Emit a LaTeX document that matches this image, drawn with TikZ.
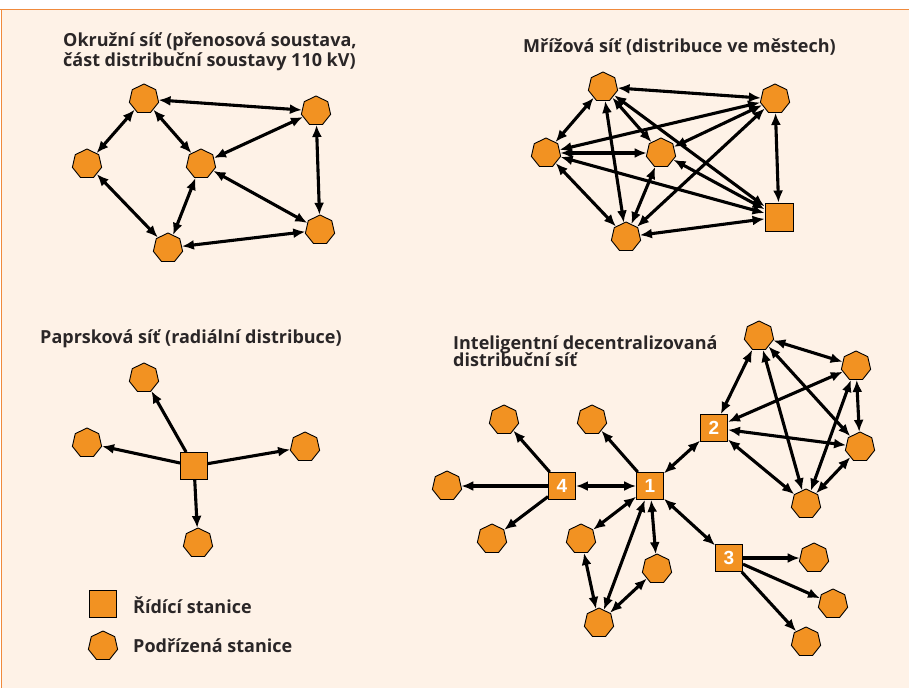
\documentclass[tikz,border=0pt]{standalone}
\usepackage{fontspec}
\setmainfont{Open Sans}
\newfontfamily\numfont{Liberation Sans}
\usetikzlibrary{shapes.geometric,arrows.meta}
\definecolor{cream}{HTML}{FEF2E7}
\definecolor{frameorange}{HTML}{F08A3C}
\definecolor{nodeorange}{HTML}{F29222}
\definecolor{titlegray}{HTML}{2A2627}
\tikzset{
  sub/.style={regular polygon, regular polygon sides=7, draw=black, line width=0.9pt, fill=nodeorange, minimum size=30pt, inner sep=0pt},
  ctrl/.style={rectangle, draw=black, line width=0.9pt, fill=nodeorange, minimum size=27pt, inner sep=0pt, text=white, font=\numfont\bfseries\fontsize{19}{19}\selectfont},
  bi/.style={line width=3.1pt, {Latex[length=12pt,width=10pt]}-{Latex[length=12pt,width=10pt]}},
  uni/.style={line width=3.1pt, -{Latex[length=12pt,width=10pt]}},
  ttl/.style={font=\bfseries\fontsize{18}{20}\selectfont, text=titlegray, anchor=west, align=left, inner sep=0pt},
}
\begin{document}
\begin{tikzpicture}[x=1pt,y=-1pt]
\useasboundingbox (0,0) rectangle (909,688);
\fill[white] (0,0) rectangle (909,688);
\fill[cream] (1.5,9.5) rectangle (909,688);
\draw[frameorange, line width=1.5pt] (0,9.5) -- (909,9.5);
\draw[frameorange, line width=1.5pt] (1.5,9.5) -- (1.5,688);

% ---------- Quadrant 1: ring network ----------
\node[ttl] (t1) at (63,52) {Okružní síť (přenosová soustava,\\část distribuční soustavy 110 kV)};
\node[sub] (a1) at (144,99) {};
\node[sub] (b1) at (316,111) {};
\node[sub] (c1) at (87,164) {};
\node[sub] (d1) at (201,164) {};
\node[sub] (e1) at (168,248) {};
\node[sub] (f1) at (320,230) {};
\draw[bi] (a1) -- (b1);
\draw[bi] (a1) -- (c1);
\draw[bi] (a1) -- (d1);
\draw[bi] (b1) -- (d1);
\draw[bi] (b1) -- (f1);
\draw[bi] (c1) -- (e1);
\draw[bi] (d1) -- (e1);
\draw[bi] (d1) -- (f1);
\draw[bi] (e1) -- (f1);

% ---------- Quadrant 2: mesh network ----------
\node[ttl] (t2) at (523,47) {Mřížová síť (distribuce ve městech)};
\node[sub] (p1) at (603,87) {};
\node[sub] (p2) at (775,99) {};
\node[sub] (p3) at (546,153) {};
\node[sub] (p4) at (661,153) {};
\node[sub] (p5) at (626,237) {};
\node[ctrl, minimum size=28pt] (ps) at (779,217) {};
\draw[bi] (p1) -- (p2);
\draw[bi] (p1) -- (p3);
\draw[bi] (p1) -- (p4);
\draw[bi] (p1) -- (p5);
\draw[bi] (p1) -- (ps);
\draw[bi] (p2) -- (p3);
\draw[bi] (p2) -- (p4);
\draw[bi] (p2) -- (p5);
\draw[bi] (p2) -- (ps);
\draw[bi] (p3) -- (p4);
\draw[bi] (p3) -- (p5);
\draw[bi] (p3) -- (ps);
\draw[bi] (p4) -- (p5);
\draw[bi] (p4) -- (ps);
\draw[bi] (p5) -- (ps);

% ---------- Quadrant 3: radial network ----------
\node[ttl] (t3) at (40,339) {Paprsková síť (radiální distribuce)};
\node[ctrl] (r0) at (194,466) {};
\node[sub] (r1) at (144,378) {};
\node[sub] (r2) at (87,443) {};
\node[sub] (r3) at (305,447) {};
\node[sub] (r4) at (198,543) {};
\draw[uni] (r0) -- (r1);
\draw[uni] (r0) -- (r2);
\draw[uni] (r0) -- (r3);
\draw[uni] (r0) -- (r4);

% legend
\node[ctrl] (lg1) at (103,604) {};
\node[ttl] (lt1) at (133,605) {Řídící stanice};
\node[sub] (lg2) at (103,646) {};
\node[ttl] (lt2) at (133,646) {Podřízená stanice};

% ---------- Quadrant 4: intelligent decentralized ----------
\node[ttl] (t4) at (453,351) {Inteligentní decentralizovaná\\[-3pt]distribuční síť};
\node[ctrl] (s1) at (650,486) {1};
\node[ctrl] (s2) at (714,428) {2};
\node[ctrl] (s3) at (729,558) {3};
\node[ctrl] (s4) at (562,486) {4};
\node[sub] (n2a) at (759,336) {};
\node[sub] (n2b) at (856,366) {};
\node[sub] (n2c) at (860,447) {};
\node[sub] (n2d) at (806,504) {};
\node[sub] (n1a) at (592,420) {};
\node[sub] (n1b) at (581,539) {};
\node[sub] (n1c) at (657,569) {};
\node[sub] (n1d) at (599,623) {};
\node[sub] (n4a) at (504,420) {};
\node[sub] (n4b) at (447,486) {};
\node[sub] (n4c) at (492,539) {};
\node[sub] (n3a) at (814,558) {};
\node[sub] (n3b) at (833,604) {};
\node[sub] (n3c) at (806,642) {};
% cluster 2
\draw[bi] (s2) -- (n2a);
\draw[bi] (s2) -- (n2b);
\draw[bi] (s2) -- (n2c);
\draw[bi] (s2) -- (n2d);
\draw[bi] (n2a) -- (n2b);
\draw[bi] (n2a) -- (n2c);
\draw[bi] (n2a) -- (n2d);
\draw[bi] (n2b) -- (n2c);
\draw[bi] (n2b) -- (n2d);
\draw[bi] (n2c) -- (n2d);
% control links
\draw[bi] (s1) -- (s2);
\draw[bi] (s1) -- (s3);
\draw[bi] (s1) -- (s4);
% cluster 1
\draw[uni] (s1) -- (n1a);
\draw[bi] (s1) -- (n1b);
\draw[bi] (s1) -- (n1c);
\draw[bi] (s1) -- (n1d);
\draw[bi] (n1b) -- (n1d);
\draw[bi] (n1c) -- (n1d);
% cluster 4
\draw[uni] (s4) -- (n4a);
\draw[uni] (s4) -- (n4b);
\draw[uni] (s4) -- (n4c);
% cluster 3
\draw[uni] (s3) -- (n3a);
\draw[uni] (s3) -- (n3b);
\draw[uni] (s3) -- (n3c);
\end{tikzpicture}
\end{document}
